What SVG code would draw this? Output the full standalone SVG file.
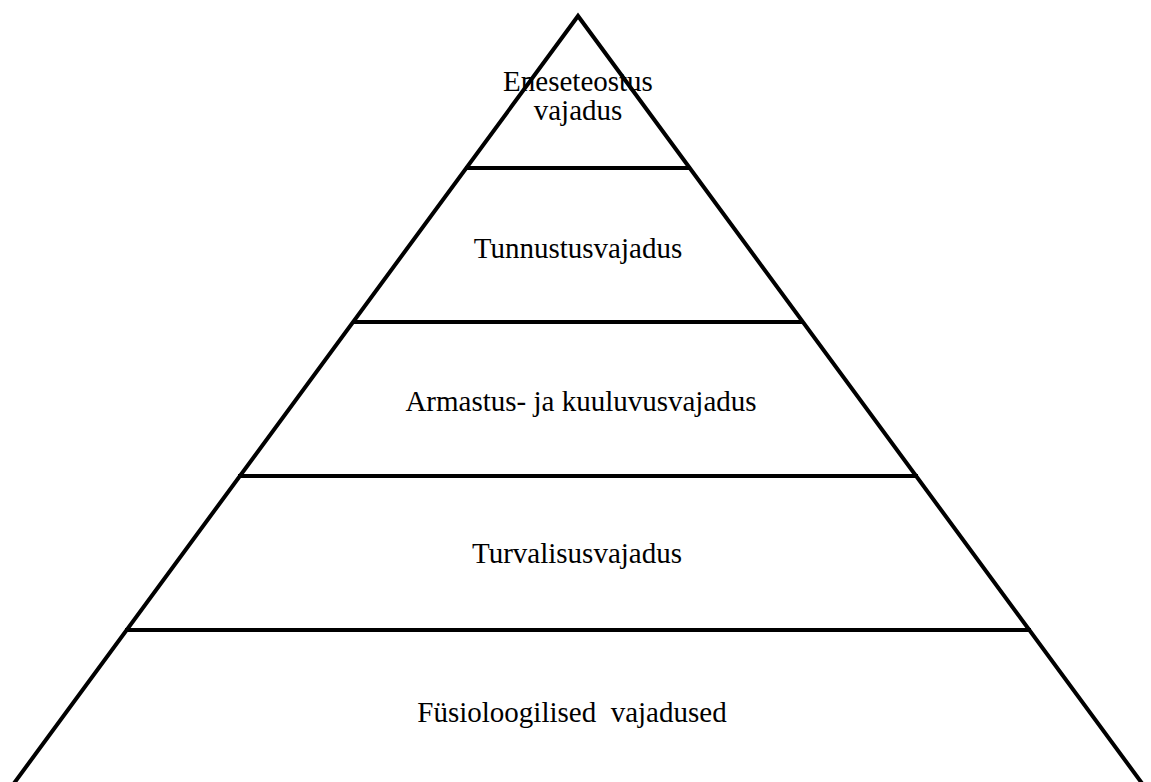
<svg xmlns="http://www.w3.org/2000/svg" width="1151" height="782" viewBox="0 0 1151 782">
<style>
.edge{fill:none;stroke:#000;stroke-width:4;stroke-linejoin:miter}
.div{stroke:#000;stroke-width:4}
.lbl{font-family:"Liberation Serif","Times New Roman",serif;font-size:29px;fill:#000;text-anchor:middle;white-space:pre}
</style>
<rect width="1151" height="782" fill="#fff"/>
<g id="connectors">
<path class="edge" d="M12,786 L578,16 L1144,786 Z"/>
<line class="div" x1="465" y1="168" x2="691" y2="168"/>
<line class="div" x1="352" y1="322" x2="804" y2="322"/>
<line class="div" x1="238" y1="476" x2="918" y2="476"/>
<line class="div" x1="125" y1="630" x2="1031" y2="630"/>
</g>
<g id="level5">
<text class="lbl" x="578" y="91">Eneseteostus</text>
<text class="lbl" x="578" y="120">vajadus</text>
</g>
<g id="level4">
<text class="lbl" x="578" y="258">Tunnustusvajadus</text>
</g>
<g id="level3">
<text class="lbl" x="581" y="411">Armastus- ja kuuluvusvajadus</text>
</g>
<g id="level2">
<text class="lbl" x="577" y="563">Turvalisusvajadus</text>
</g>
<g id="level1">
<text class="lbl" x="572" y="722">Füsioloogilised  vajadused</text>
</g>
</svg>
